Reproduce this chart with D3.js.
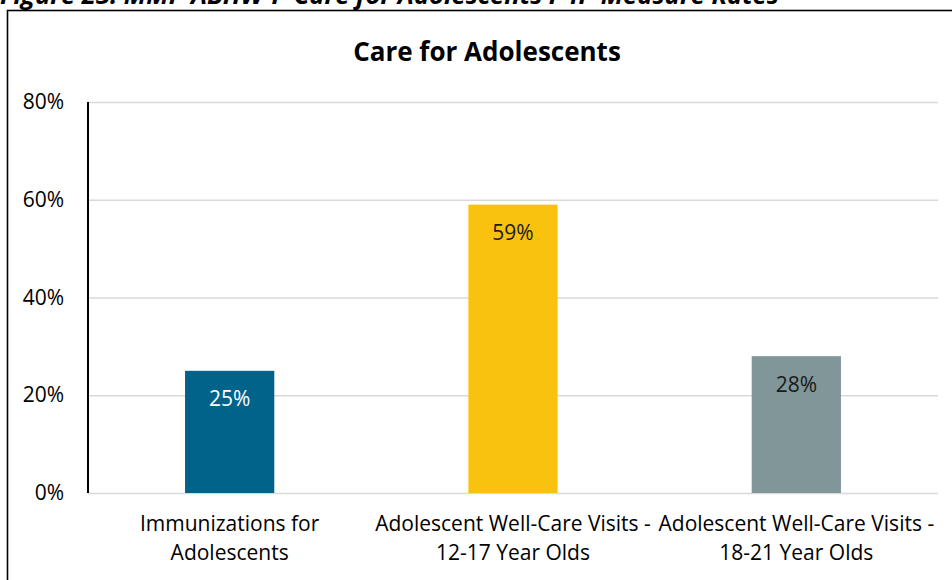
<!DOCTYPE html>
<html>
<head>
<meta charset="utf-8">
<script src="https://cdn.jsdelivr.net/npm/d3@7"></script>
<style>
  html, body { margin: 0; padding: 0; background: #fff; }
  svg { display: block; }
</style>
</head>
<body>
<svg id="chart" width="952" height="580"></svg>
<script>
const categories = [
  ["Immunizations for", "Adolescents"],
  ["Adolescent Well-Care Visits -", "12-17 Year Olds"],
  ["Adolescent Well-Care Visits -", "18-21 Year Olds"]
];
const values = [0.25, 0.59, 0.28];
const valueLabels = ["25%", "59%", "28%"];
const barColors = ["#01628a", "#f8c20f", "#819698"];
const labelColors = ["#ffffff", "#1a1a1a", "#1a1a1a"];
const yTicks = [0, 0.2, 0.4, 0.6, 0.8];
const chartTitle = "Care for Adolescents";
const caption = "Figure 23: MMP ABHW-P Care for Adolescents P4P Measure Rates";

const FONT = "'Open Sans', Lato, sans-serif";
const svg = d3.select("#chart");

const plotL = 88, plotR = 938, plotT = 102, plotB = 493;

const x = d3.scaleBand().domain(d3.range(categories.length)).range([plotL, plotR]).padding(0);
const y = d3.scaleLinear().domain([0, 0.8]).range([plotB, plotT]);
const barW = x.bandwidth() * 0.315;

// caption (cut off at top, as in the source image)
svg.append("text")
  .attr("x", 0).attr("y", 4)
  .attr("font-family", FONT).attr("font-weight", "bold").attr("font-style", "italic")
  .attr("font-size", 25.5).attr("fill", "#000")
  .text(caption);

// outer border
svg.append("rect")
  .attr("x", 7.5).attr("y", 10.5).attr("width", 960).attr("height", 600)
  .attr("fill", "none").attr("stroke", "#000").attr("stroke-width", 1.6);

// title
svg.append("text")
  .attr("x", 487).attr("y", 61)
  .attr("text-anchor", "middle")
  .attr("font-family", FONT).attr("font-weight", "bold")
  .attr("font-size", 26).attr("fill", "#000")
  .text(chartTitle);

// gridlines
const grid = svg.append("g")
  .attr("transform", `translate(${plotL},0)`)
  .call(d3.axisLeft(y).tickValues(yTicks).tickSize(-(plotR - plotL)).tickFormat(""));
grid.select(".domain").remove();
grid.selectAll("line").attr("stroke", "#d9d9d9").attr("stroke-width", 1.5);

// y axis labels
const yAxis = svg.append("g")
  .attr("transform", `translate(${plotL},0)`)
  .call(d3.axisLeft(y).tickValues(yTicks).tickSize(0).tickPadding(24).tickFormat(d3.format(".0%")));
yAxis.select(".domain").remove();
yAxis.selectAll("text")
  .attr("font-family", FONT).attr("font-size", 21).attr("fill", "#000");

// bars
svg.append("g").selectAll("rect")
  .data(values)
  .join("rect")
  .attr("x", (d, i) => x(i) + (x.bandwidth() - barW) / 2)
  .attr("y", d => y(d))
  .attr("width", barW)
  .attr("height", d => y(0) - y(d))
  .attr("fill", (d, i) => barColors[i]);

// y axis line
svg.append("line")
  .attr("x1", plotL).attr("x2", plotL)
  .attr("y1", y(0.8)).attr("y2", y(0))
  .attr("stroke", "#000").attr("stroke-width", 2);

// data labels
svg.append("g").selectAll("text")
  .data(values)
  .join("text")
  .attr("x", (d, i) => x(i) + x.bandwidth() / 2)
  .attr("y", d => y(d) + 28)
  .attr("dy", "0.35em")
  .attr("text-anchor", "middle")
  .attr("font-family", FONT).attr("font-size", 21)
  .attr("fill", (d, i) => labelColors[i])
  .text((d, i) => valueLabels[i]);

// category labels
const cat = svg.append("g").selectAll("text")
  .data(categories)
  .join("text")
  .attr("text-anchor", "middle")
  .attr("font-family", FONT).attr("font-size", 21).attr("fill", "#000");
cat.each(function(lines, i) {
  const t = d3.select(this);
  lines.forEach((ln, j) => {
    t.append("tspan")
      .attr("x", x(i) + x.bandwidth() / 2)
      .attr("y", 531 + j * 29)
      .text(ln);
  });
});
</script>
</body>
</html>
